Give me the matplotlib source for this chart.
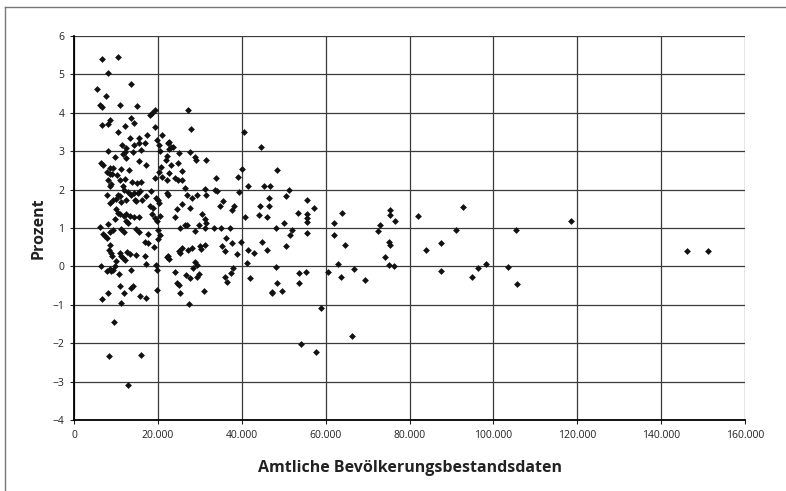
import matplotlib
matplotlib.use('Agg')
import matplotlib.pyplot as plt
from matplotlib.lines import Line2D

# Amtliche Bevölkerungsbestandsdaten (x) und Abweichung in Prozent (y)
bevoelkerung = [
    6560, 10510, 8220, 5380, 13680, 7590, 6170, 6720, 10910, 15020,
    18180, 18580, 19370, 13680, 14230, 6560, 8220, 8540, 12250, 10510,
    19370, 13440, 15490, 17390, 20950, 11460, 12490, 14230, 15410, 17000,
    19760, 20240, 22370, 8140, 12090, 14070, 16050, 20400,
    9720, 11700, 12490, 15410, 6320, 6800, 8540, 9330, 7980, 8700,
    9170, 11150, 10280, 13040, 12090, 10910, 8140, 13910, 15020, 16050,
    17080, 20630, 21030, 19370, 20240, 22210, 11700, 11940, 8540, 8930,
    7750, 10510, 10910, 12890, 13680, 14230, 15260, 15650, 18420, 8540,
    9330, 10120, 11300, 12490, 14470, 14860, 16280, 17080, 19600, 20000,
    20240, 18180, 18810, 10120, 10510, 10910, 11860, 12490, 13280, 14230,
    15490, 12490, 12890, 9720, 18650, 19210, 19760, 20400, 6170, 8140,
    8540, 9330, 6960, 7350, 7750, 11300, 11860, 14860, 15490, 17630,
    16840, 17630, 20400, 20000, 20000, 8540, 8380, 8930, 9090, 10910,
    11300, 11700, 12090, 12650, 13280, 10120, 14860, 16840, 19050, 17080,
    19600, 6320, 7750, 8540, 9720, 13680, 22370,
    8930, 9330, 10670, 19760, 10910, 8220, 11860, 13680, 14070, 6720,
    11300, 15810, 17080, 19840, 9490, 8380, 16050, 12890,
    27120, 27990, 40630, 44510, 22770, 23240, 22610, 23560, 24980, 27600,
    28780, 29180, 31460, 22210, 21820, 23240, 24740, 25770, 22610, 24030,
    24820, 25770, 33910, 40000, 39130, 41580, 45380, 46720, 26410, 22210,
    22450, 31300, 33520, 34070, 26960, 28150, 29420, 31540, 35420, 34860,
    38260, 37630, 39370, 25770, 24580, 27600, 30510, 24190, 44350, 44190,
    46480, 46480, 40790, 31300,
    31460, 46090, 25380, 26410, 26960, 28780, 29730, 31150, 33280, 35100,
    37230, 36280, 37630, 39840, 44740, 41420, 43000, 45930, 25770, 27200,
    28150, 29970, 31150, 30350, 25380, 25140, 35260, 35890, 38810, 22210,
    22610, 28780, 29340, 28300, 41190, 38020, 24030, 37470, 26650, 27670,
    29730, 29340, 36050, 36600, 41980, 24580, 25140, 31070, 25380, 27360,
    47110,
    48380, 51300, 50510, 55490, 57310, 53360, 55490, 55490, 55490, 49960,
    48220, 51940, 51540, 55490, 50590, 63790, 61980, 61980, 64580, 75260,
    75260, 76440, 72880, 72490, 75100, 75260, 74070, 62850, 48220, 75100,
    76200,
    53760, 55340, 48380, 53600, 47190, 49560, 60630, 63640, 66720, 69330,
    58890, 66320, 54150, 57710,
    82140, 92860, 91040, 105490, 87460, 83970, 87460, 96360, 98340, 94850,
    103420, 105730,
    118420, 146240, 151150,
]

prozent = [
    5.39, 5.45, 5.03, 4.62, 4.75, 4.43, 4.21, 4.16, 4.21, 4.17,
    3.95, 3.99, 4.08, 3.87, 3.73, 3.69, 3.72, 3.82, 3.65, 3.50,
    3.62, 3.35, 3.34, 3.43, 3.43, 3.15, 3.09, 3.16, 3.22, 3.22,
    3.28, 3.16, 3.22, 3.00, 2.98, 2.98, 3.02, 3.00,
    2.85, 2.92, 2.81, 2.75, 2.70, 2.64, 2.55, 2.55, 2.47, 2.41,
    2.41, 2.53, 2.38, 2.51, 2.27, 2.26, 2.26, 2.21, 2.17, 2.19,
    2.64, 2.60, 2.34, 2.30, 2.47, 2.26, 2.09, 2.00, 2.10, 2.14,
    1.87, 1.87, 1.83, 1.93, 1.87, 1.91, 1.91, 1.96, 1.96, 1.66,
    1.73, 1.76, 1.68, 1.74, 1.74, 1.70, 1.74, 1.83, 1.79, 1.74,
    1.66, 1.57, 1.53, 1.49, 1.40, 1.36, 1.32, 1.36, 1.32, 1.28,
    1.28, 1.19, 1.13, 1.23, 1.36, 1.25, 1.19, 1.32, 1.02, 1.11,
    0.89, 0.94, 0.85, 0.79, 0.74, 0.98, 0.89, 0.98, 0.89, 0.85,
    0.64, 0.60, 0.81, 0.72, 0.94, 0.55, 0.43, 0.34, 0.26, 0.34,
    0.26, 0.21, 0.17, 0.38, 0.31, 0.13, 0.30, 0.26, 0.51, 0.06,
    0.04, 0.00, -0.13, -0.06, 0.00, -0.09, 0.26,
    -0.12, -0.10, -0.21, -0.10, -0.51, -0.69, -0.68, -0.55, -0.52, -0.86,
    -0.95, -0.76, -0.81, -0.62, -1.44, -2.33, -2.30, -3.10,
    4.07, 3.59, 3.50, 3.10, 3.24, 3.11, 3.06, 3.11, 2.96, 2.97,
    2.84, 2.78, 2.78, 2.87, 2.78, 2.63, 2.68, 2.48, 2.43, 2.30,
    2.26, 2.24, 2.30, 2.54, 2.33, 2.09, 2.10, 2.09, 2.03, 1.90,
    1.87, 2.02, 2.00, 1.97, 1.87, 1.78, 1.85, 1.85, 1.70, 1.58,
    1.58, 1.46, 1.93, 1.63, 1.50, 1.52, 1.37, 1.29, 1.58, 1.35,
    1.78, 1.57, 1.29, 1.23,
    1.14, 1.28, 1.00, 1.09, 1.09, 0.91, 1.07, 1.00, 1.00, 1.00,
    1.00, 0.74, 0.62, 0.64, 0.64, 0.42, 0.36, 0.44, 0.47, 0.42,
    0.47, 0.53, 0.55, 0.45, 0.34, 0.40, 0.53, 0.40, 0.31, 0.25,
    0.19, 0.12, 0.03, -0.05, 0.09, -0.03, -0.14, -0.18, -0.22, -0.31,
    -0.21, -0.27, -0.27, -0.40, -0.31, -0.44, -0.48, -0.64, -0.70, -0.98,
    -0.68,
    2.50, 2.00, 1.83, 1.73, 1.53, 1.39, 1.37, 1.27, 1.15, 1.14,
    1.00, 0.96, 0.82, 0.88, 0.52, 1.40, 1.14, 0.83, 0.56, 1.47,
    1.33, 1.18, 1.08, 0.91, 0.63, 0.56, 0.24, 0.07, -0.02, 0.04,
    0.00,
    -0.16, -0.14, -0.43, -0.43, -0.67, -0.63, -0.14, -0.28, -0.07, -0.36,
    -1.08, -1.80, -2.03, -2.22,
    1.30, 1.55, 0.95, 0.95, 0.62, 0.43, -0.13, -0.03, 0.06, -0.27,
    -0.01, -0.45,
    1.19, 0.41, 0.41,
]

x_ticks = [0, 20000, 40000, 60000, 80000, 100000, 120000, 140000, 160000]
x_tick_labels = ['0', '20.000', '40.000', '60.000', '80.000', '100.000',
                 '120.000', '140.000', '160.000']
y_ticks = [-4, -3, -2, -1, 0, 1, 2, 3, 4, 5, 6]

plt.rcParams['font.family'] = ['Open Sans', 'DejaVu Sans']

fig = plt.figure(figsize=(7.86, 4.91), dpi=100)
ax = fig.add_axes([74 / 786, 1 - 420 / 491, 671 / 786, 384 / 491])

ax.scatter(bevoelkerung, prozent, marker='D', s=12, color='#111111',
           linewidths=0, zorder=3)

ax.set_xlim(0, 160000)
ax.set_ylim(-4, 6)
ax.set_xticks(x_ticks)
ax.set_xticklabels(x_tick_labels)
ax.set_yticks(y_ticks)
ax.grid(True, color='#3a3a3a', linewidth=0.9, zorder=0)
ax.set_axisbelow(True)

for side in ['top', 'right']:
    ax.spines[side].set_visible(False)
ax.spines['left'].set_linewidth(1.3)
ax.spines['bottom'].set_linewidth(1.3)
ax.tick_params(axis='both', direction='out', length=3, width=0.8,
               labelsize=7.5, colors='#222222', pad=4)

ax.set_xlabel('Amtliche Bevölkerungsbestandsdaten', fontsize=11.5,
              fontweight='bold', color='#222222', labelpad=14)
ax.set_ylabel('Prozent', fontsize=11.5, fontweight='bold', color='#222222',
              labelpad=4)

# chart frame (cut off on the right and bottom)
fig.add_artist(Line2D([5 / 786, 5 / 786], [0, 1 - 7 / 491],
                      transform=fig.transFigure, color='#777777', lw=1))
fig.add_artist(Line2D([5 / 786, 1], [1 - 7 / 491, 1 - 7 / 491],
                      transform=fig.transFigure, color='#777777', lw=1))

plt.savefig('out.png', dpi=100)
plt.close()
